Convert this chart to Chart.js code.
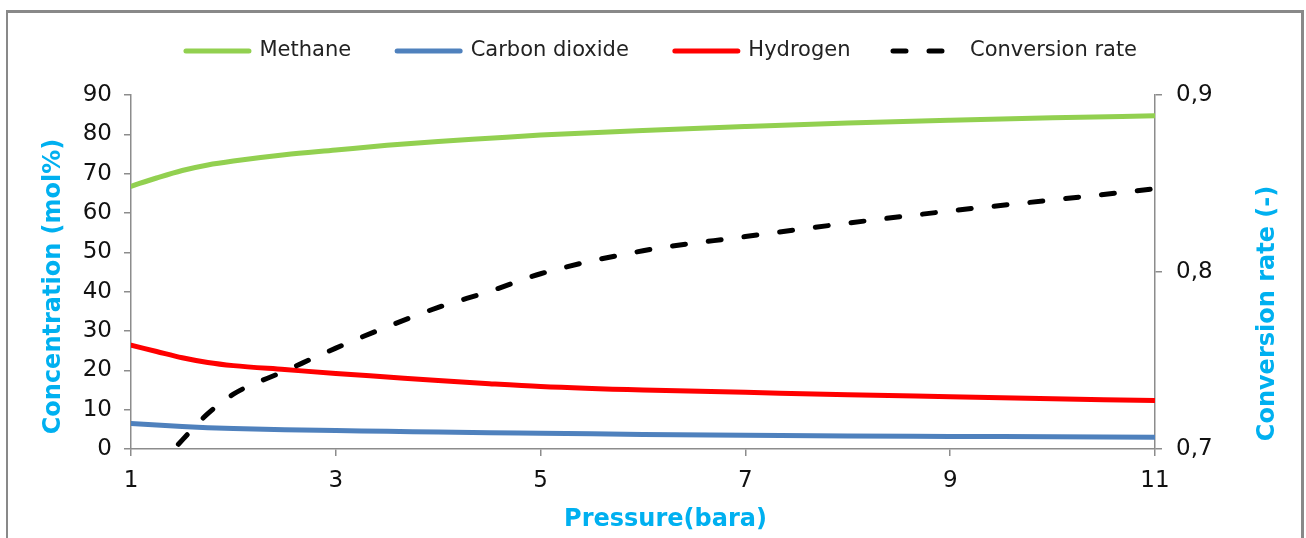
<!DOCTYPE html>
<html>
<head>
<meta charset="utf-8">
<script src="https://cdn.jsdelivr.net/npm/chart.js@4.4.1/dist/chart.umd.min.js"></script>
<style>
  html, body { margin: 0; padding: 0; background: #ffffff; width: 1306px; height: 538px; overflow: hidden; }
  #frame { position: absolute; left: 6px; top: 10px; width: 1293px; height: 600px;
           border-style: solid; border-color: #898989; border-width: 3px 3px 0 2px; }
  #wrap { position: absolute; left: 0; top: 0; width: 1306px; height: 538px; }
</style>
</head>
<body>
<div id="frame"></div>
<div id="wrap"><canvas id="c" width="1306" height="538"></canvas></div>
<script>
// ---- data ----
const pressure       = [1, 1.25, 1.5, 1.75, 2, 2.5, 3, 3.5, 4, 4.5, 5, 6, 7, 8, 9, 10, 11];
const methane        = [66.8, 68.9, 70.8, 72.2, 73.2, 74.8, 76.0, 77.2, 78.2, 79.0, 79.8, 81.0, 82.0, 82.9, 83.6, 84.2, 84.7];
const carbonDioxide  = [6.5, 6.1, 5.7, 5.4, 5.2, 4.9, 4.7, 4.5, 4.3, 4.1, 4.0, 3.7, 3.5, 3.3, 3.2, 3.1, 3.0];
const hydrogen       = [26.4, 24.8, 23.2, 22.0, 21.2, 20.2, 19.2, 18.3, 17.4, 16.6, 15.9, 15.0, 14.4, 13.8, 13.3, 12.8, 12.3];
const conversionRate = [0.672, 0.689, 0.705, 0.720, 0.731, 0.744, 0.757, 0.769, 0.780, 0.789, 0.799, 0.812, 0.820, 0.8276, 0.8345, 0.8407, 0.847];

const seriesNames = ['Methane', 'Carbon dioxide', 'Hydrogen', 'Conversion rate'];
const xTitle  = 'Pressure(bara)';
const yTitle  = 'Concentration (mol%)';
const y2Title = 'Conversion rate (-)';

const FONT = '"DejaVu Sans", Verdana, sans-serif';
const TITLE_COLOR = '#00B0F0';
const AXIS_COLOR = '#8c8c8c';

const toXY = ys => pressure.map((x, i) => ({ x: x, y: ys[i] }));

// legend symbol for the dashed series (two dashes, like the reference key)
const dashIcon = document.createElement('canvas');
dashIcon.width = 80; dashIcon.height = 10;
(function () {
  const g = dashIcon.getContext('2d');
  g.strokeStyle = '#000000'; g.lineWidth = 5; g.lineCap = 'round';
  g.beginPath();
  g.moveTo(5, 5); g.lineTo(18, 5);
  g.moveTo(41, 5); g.lineTo(54, 5);
  g.stroke();
})();

const layoutPlugin = {
  id: 'layoutTweaks',
  beforeUpdate(chart) {
    const lg = chart.legend;
    if (lg && !lg._patched) {
      const fit = lg.fit;
      lg.fit = function () { fit.call(this); this.height = 95; };
      lg._patched = true;
    }
  },
  afterLayout(chart) {
    if (chart.legend) { chart.legend.top -= 5.5; chart.legend.bottom -= 5.5; }
  },
  afterDraw(chart) {
    const ctx = chart.ctx;
    ctx.save();
    ctx.fillStyle = TITLE_COLOR;
    ctx.font = 'bold 24px ' + FONT;
    ctx.textAlign = 'center';
    ctx.textBaseline = 'alphabetic';
    ctx.fillText(xTitle, 665.5, 526);
    ctx.save();
    ctx.translate(59.5, 286.5);
    ctx.rotate(-Math.PI / 2);
    ctx.fillText(yTitle, 0, 0);
    ctx.restore();
    ctx.save();
    ctx.translate(1274, 313.5);
    ctx.rotate(-Math.PI / 2);
    ctx.fillText(y2Title, 0, 0);
    ctx.restore();
    ctx.restore();
  }
};

const lineBase = { borderWidth: 5, pointRadius: 0, pointHoverRadius: 0, fill: false,
                   cubicInterpolationMode: 'monotone', borderCapStyle: 'round', borderJoinStyle: 'round' };

new Chart(document.getElementById('c'), {
  type: 'line',
  data: {
    datasets: [
      Object.assign({}, lineBase, { label: seriesNames[0], data: toXY(methane), borderColor: '#92D050', backgroundColor: '#92D050', yAxisID: 'y' }),
      Object.assign({}, lineBase, { label: seriesNames[1], data: toXY(carbonDioxide), borderColor: '#4F81BD', backgroundColor: '#4F81BD', yAxisID: 'y' }),
      Object.assign({}, lineBase, { label: seriesNames[2], data: toXY(hydrogen), borderColor: '#FF0000', backgroundColor: '#FF0000', yAxisID: 'y' }),
      Object.assign({}, lineBase, { label: seriesNames[3], data: toXY(conversionRate), borderColor: '#000000', backgroundColor: '#000000',
        yAxisID: 'y1', borderDash: [13, 23], clip: 0, order: -1 })
    ]
  },
  options: {
    responsive: false,
    animation: false,
    devicePixelRatio: 1,
    layout: { padding: { left: 17, right: 0, top: 0, bottom: 0 } },
    plugins: {
      tooltip: { enabled: false },
      legend: {
        display: true,
        position: 'top',
        labels: {
          font: { family: FONT, size: 21 },
          color: '#222222',
          usePointStyle: true,
          pointStyle: 'line',
          pointStyleWidth: 63,
          padding: 46,
          sort: (a, b) => a.datasetIndex - b.datasetIndex,
          generateLabels(chart) {
            const items = Chart.defaults.plugins.legend.labels.generateLabels(chart);
            items.forEach(it => {
              const ds = chart.data.datasets[it.datasetIndex];
              it.lineDash = [];
              it.lineCap = 'round';
              it.lineWidth = ds.borderWidth;
              it.strokeStyle = ds.borderColor;
              it.fillStyle = ds.borderColor;
              it.pointStyle = ds.borderDash ? dashIcon : 'line';
            });
            return items;
          }
        }
      }
    },
    scales: {
      x: {
        type: 'linear',
        position: 'bottom',
        min: 1, max: 11,
        afterFit(s) { s.height = 89; },
        ticks: { stepSize: 2, padding: 11, maxRotation: 0, autoSkip: false,
                 color: '#111111', font: { family: FONT, size: 23 } },
        grid: { display: true, drawOnChartArea: false, drawTicks: true, tickLength: 7, color: AXIS_COLOR, lineWidth: 1.5 },
        border: { display: true, color: AXIS_COLOR, width: 1.5 },
        title: { display: false }
      },
      y: {
        type: 'linear',
        position: 'left',
        min: 0, max: 90,
        afterFit(s) { s.width = 114; },
        ticks: { stepSize: 10, padding: 12, color: '#111111', font: { family: FONT, size: 23 } },
        grid: { display: true, drawOnChartArea: false, drawTicks: true, tickLength: 7, color: AXIS_COLOR, lineWidth: 1.5 },
        border: { display: true, color: AXIS_COLOR, width: 1.5 },
        title: { display: false }
      },
      y1: {
        type: 'linear',
        position: 'right',
        min: 0.7, max: 0.9,
        afterFit(s) { s.width = 151; },
        ticks: { stepSize: 0.1, padding: 14, color: '#111111', font: { family: FONT, size: 23 },
                 callback: v => Number(v).toFixed(1).replace('.', ',') },
        grid: { display: true, drawOnChartArea: false, drawTicks: true, tickLength: 7, color: AXIS_COLOR, lineWidth: 1.5 },
        border: { display: true, color: AXIS_COLOR, width: 1.5 },
        title: { display: false }
      }
    }
  },
  plugins: [layoutPlugin]
});
</script>
</body>
</html>
